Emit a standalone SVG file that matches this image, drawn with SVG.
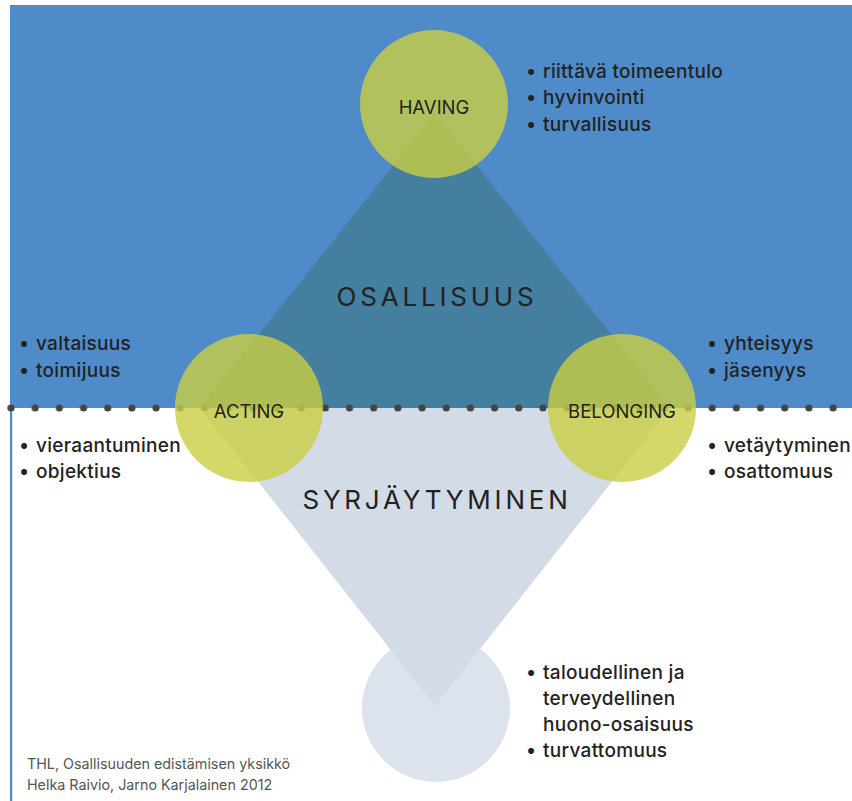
<svg xmlns="http://www.w3.org/2000/svg" width="852" height="801" viewBox="0 0 852 801">
<style>
.t{font-family:Inter,"Noto Sans","Liberation Sans",sans-serif;fill:#222;}
.b{font-size:19px;font-weight:500;letter-spacing:0.3px;}
.lbl{font-size:18.5px;text-anchor:middle;}
.big{font-size:26px;text-anchor:middle;letter-spacing:3.8px;}
.foot{font-family:Inter,"Noto Sans","Liberation Sans",sans-serif;font-size:14.3px;fill:#555;}
.gc{fill:#c9ce42;fill-opacity:0.8;}
.dot{fill:#444;}
</style>
<defs>
<pattern id="dots" x="-0.5" y="400" width="24.18" height="16" patternUnits="userSpaceOnUse">
<circle cx="11.5" cy="8" r="3.6" class="dot"/>
</pattern>
</defs>
<rect width="852" height="801" fill="#fff"/>
<rect x="10" y="5" width="842" height="403" fill="#4f8bc9"/>
<rect x="10" y="408" width="2.2" height="393" fill="#4f8bc9"/>
<polygon points="435,113 200,408 670,408" fill="#447fa0"/>
<g id="bottom-circle"><circle cx="436" cy="708" r="74" fill="#dce3ec"/></g>
<polygon points="200,408 670,408 435,706" fill="#d3dbe6"/>
<g id="connectors">
<rect x="6" y="400" width="835" height="16" fill="url(#dots)"/>
</g>
<g id="having">
<circle cx="434" cy="104" r="74" class="gc"/>
<text x="434" y="114" class="t lbl">HAVING</text>
</g>
<g id="acting">
<circle cx="249" cy="408" r="74" class="gc"/>
<text x="249" y="418" class="t lbl">ACTING</text>
</g>
<g id="belonging">
<circle cx="622" cy="408" r="74" class="gc"/>
<text x="622" y="418" class="t lbl">BELONGING</text>
</g>
<text x="437" y="306" class="t big">OSALLISUUS</text>
<text x="437" y="509" class="t big">SYRJÄYTYMINEN</text>
<g class="t b">
<text x="526" y="78">•</text><text x="543" y="78">riittävä toimeentulo</text>
<text x="526" y="104">•</text><text x="543" y="104">hyvinvointi</text>
<text x="526" y="131">•</text><text x="543" y="131">turvallisuus</text>
<text x="19" y="350">•</text><text x="36" y="350">valtaisuus</text>
<text x="19" y="377">•</text><text x="36" y="377">toimijuus</text>
<text x="19" y="452">•</text><text x="36" y="452">vieraantuminen</text>
<text x="19" y="478">•</text><text x="36" y="478">objektius</text>
<text x="707" y="350">•</text><text x="724" y="350">yhteisyys</text>
<text x="707" y="377">•</text><text x="724" y="377">jäsenyys</text>
<text x="707" y="452">•</text><text x="724" y="452">vetäytyminen</text>
<text x="707" y="478">•</text><text x="724" y="478">osattomuus</text>
<text x="526" y="679">•</text><text x="543" y="679">taloudellinen ja</text>
<text x="543" y="705">terveydellinen</text>
<text x="543" y="731">huono-osaisuus</text>
<text x="526" y="757">•</text><text x="543" y="757">turvattomuus</text>
</g>
<text x="27" y="769" class="foot">THL, Osallisuuden edistämisen yksikkö</text>
<text x="27" y="790" class="foot">Helka Raivio, Jarno Karjalainen 2012</text>
</svg>
